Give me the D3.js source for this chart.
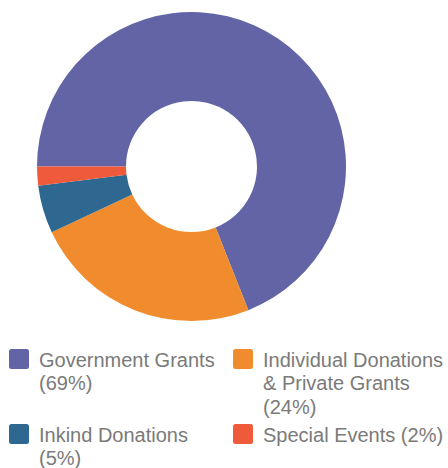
<!DOCTYPE html>
<html>
<head>
<meta charset="utf-8">
<script src="https://cdn.jsdelivr.net/npm/d3@7"></script>
<style>
  body { margin: 0; background: #fff; }
  svg { display: block; }
</style>
</head>
<body>
<svg width="448" height="468"></svg>
<script>
// data
var categories = ["Government Grants", "Individual Donations & Private Grants", "Inkind Donations", "Special Events"];
var values = [69, 24, 5, 2];
var colors = ["#6264a6", "#f08c2d", "#2e6891", "#ee5a3a"];
// legend lines as wrapped in the reference
var legendLines = [
    ["Government Grants", "(69%)"],
    ["Individual Donations", "& Private Grants", "(24%)"],
    ["Inkind Donations", "(5%)"],
    ["Special Events (2%)"]
];

var svg = d3.select("svg");

var cx = 191.5, cy = 166.5, outerR = 154.5, innerR = 65.5;

var color = d3.scaleOrdinal().domain(categories).range(colors);

var pie = d3.pie()
    .sort(null)
    .startAngle(-Math.PI / 2)
    .endAngle(Math.PI * 1.5);

var arc = d3.arc().innerRadius(innerR).outerRadius(outerR);

var data = categories.map((c, i) => ({ name: c, value: values[i] }));

svg.append("g")
    .attr("transform", `translate(${cx},${cy})`)
    .selectAll("path")
    .data(pie.value(d => d.value)(data))
    .enter().append("path")
    .attr("d", arc)
    .attr("fill", d => color(d.data.name));

// legend, two columns
var colX = [9, 233];
var rowY = [349, 424];
var lineH = 23.5;

var legend = svg.append("g").attr("class", "legend");
data.forEach((d, i) => {
    var g = legend.append("g")
        .attr("transform", `translate(${colX[i % 2]},${rowY[Math.floor(i / 2)]})`);
    g.append("rect")
        .attr("width", 20).attr("height", 20)
        .attr("rx", 2.5)
        .attr("fill", color(d.name));
    g.append("text")
        .attr("x", 30)
        .attr("y", 17.5)
        .attr("font-family", "'Liberation Sans', Arial, sans-serif")
        .attr("font-size", 20)
        .attr("fill", "#7a7a7a")
        .selectAll("tspan")
        .data(legendLines[i])
        .enter().append("tspan")
        .attr("x", 30)
        .attr("dy", (t, j) => j ? lineH : 0)
        .text(t => t);
});
</script>
</body>
</html>
